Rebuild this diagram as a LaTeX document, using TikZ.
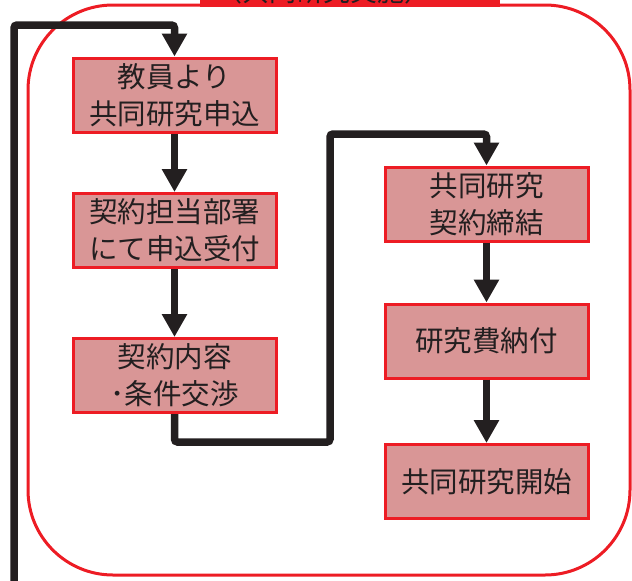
\documentclass[tikz,border=0pt]{standalone}
\usepackage{fontspec}
\newfontfamily\jp{Noto Sans CJK JP}
\usetikzlibrary{arrows.meta}
\definecolor{boxfill}{RGB}{217,150,150}
\definecolor{boxred}{RGB}{237,28,36}
\definecolor{arrowblack}{RGB}{35,31,32}
\tikzset{
  stepbox/.style={draw=boxred, fill=boxfill, line width=3pt, minimum width=203pt, minimum height=74pt, inner sep=0pt, align=center, font=\jp\fontsize{28.5}{37}\selectfont, text=arrowblack},
  flow/.style={draw=arrowblack, line width=7.5pt, rounded corners=3pt, -{Triangle[width=24pt,length=23pt]}}
}
\begin{document}
\begin{tikzpicture}[x=1pt,y=-1pt]
\useasboundingbox (0,0) rectangle (632,581);
\begin{scope}
\clip (0,0) rectangle (632,581);
\draw[boxred, line width=3pt, rounded corners=85pt] (28,5) rectangle (630,575);
\node[fill=boxred, minimum width=300pt, minimum height=40pt, inner sep=0pt] (lbl) at (350,-13) {};
\node[font=\jp\fontsize{27}{37}\selectfont, text=arrowblack, anchor=base, inner sep=0pt] (lbltext) at (323,1) {（共同研究実施）};
\end{scope}

\node[stepbox] (b1) at (174.5,95) {教員より\\共同研究申込};
\node[stepbox] (b2) at (174.5,230.5) {契約担当部署\\にて申込受付};
\node[stepbox] (b3) at (174.5,375.5) {契約内容\\･条件交渉};
\node[stepbox] (b4) at (486.5,204) {共同研究\\契約締結};
\node[stepbox] (b5) at (486.5,341) {研究費納付};
\node[stepbox] (b6) at (486.5,481.5) {共同研究開始};

\coordinate (fb) at (14,600);
\draw[flow] (fb) -- (14,25) -| (b1.north);
\draw[flow] (b1.south) -- (b2.north);
\draw[flow] (b2.south) -- (b3.north);
\draw[flow] (b3.south) |- (330,442) -- (330,134) -| (b4.north);
\draw[flow] (b4.south) -- (b5.north);
\draw[flow] (b5.south) -- (b6.north);
\end{tikzpicture}
\end{document}
